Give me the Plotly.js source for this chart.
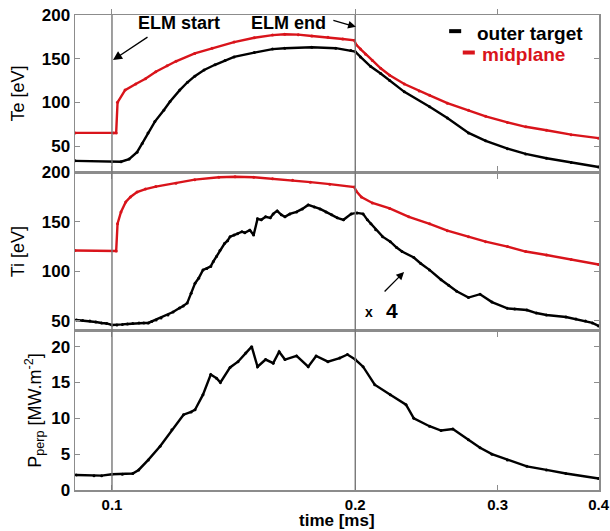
<!DOCTYPE html>
<html><head><meta charset="utf-8">
<script src="https://cdn.plot.ly/plotly-3.0.1.min.js"></script>
<style>body{margin:0;background:#fff}#c{width:610px;height:531px}</style>
</head><body><div id="c"></div>
<script>
// x tick labels
var xTicks = [0.1, 0.2, 0.3, 0.4];
// Te, midplane (red)
var teMidT = [0.09,0.1005,0.1012,0.1016,0.1038,0.107,0.11,0.1133,0.117,0.12,0.1266,0.133,0.1416,0.15,0.158,0.1636,0.17,0.1767,0.185,0.193,0.1995,0.2005,0.203,0.206,0.21,0.215,0.2206,0.23,0.24,0.2472,0.26,0.2762,0.29,0.3086,0.325,0.3449,0.37,0.4];
var teMidV = [65,65,65,100,114,121,127,135,142,147,156,162,169,174,177,178,177.5,176,174.5,172.5,171,166,161,155,148,139,131,121,113,108,99,91,84,77,72,68,63,59];
// Te, outer target (black)
var teOutT = [0.09,0.1,0.1026,0.105,0.1074,0.109,0.1108,0.113,0.1159,0.118,0.1213,0.124,0.1266,0.13,0.1341,0.138,0.1416,0.15,0.158,0.1636,0.1767,0.1892,0.1975,0.2,0.203,0.209,0.215,0.2206,0.23,0.2472,0.26,0.2762,0.29,0.3086,0.325,0.3449,0.37,0.4];
var teOutV = [33,32,32,35,43,53,65,78,91,101,114,123,130,137,143,148,152,157,161,162,163,162,159.5,158,152,141,133,125,112,95,82,65,56,47,41,36,31,26];
// Ti, midplane (red)
var tiMidT = [0.09,0.1012,0.1016,0.1026,0.104,0.1054,0.1074,0.11,0.1133,0.12,0.1266,0.1356,0.142,0.1498,0.158,0.1673,0.176,0.186,0.1995,0.2005,0.2035,0.21,0.2206,0.233,0.2472,0.26,0.2762,0.29,0.3086,0.325,0.3449,0.37,0.4];
var tiMidV = [121,120.5,148,160,170,175,180,183,185.5,189,192.5,195,195.5,195,193.5,192,190,188,185,181,175,169,163.5,155,148,141,135,130,125,120,116.5,112,107];
// Ti, outer target x4 (black)
var tiOutT = [0.0903,0.092,0.0939,0.0955,0.0971,0.0985,0.1,0.1014,0.103,0.1045,0.1061,0.108,0.1095,0.1109,0.112,0.1134,0.115,0.1173,0.119,0.1212,0.1225,0.1239,0.1253,0.1267,0.128,0.1296,0.131,0.1325,0.1335,0.1347,0.136,0.1378,0.139,0.14,0.1416,0.143,0.1448,0.146,0.1481,0.1497,0.1514,0.153,0.1549,0.157,0.1583,0.1601,0.162,0.1637,0.166,0.1692,0.172,0.1749,0.178,0.1809,0.184,0.187,0.19,0.1934,0.1977,0.201,0.2045,0.207,0.2091,0.212,0.2162,0.221,0.225,0.2285,0.2363,0.241,0.2471,0.2554,0.261,0.267,0.2761,0.2854,0.2952,0.3085,0.315,0.3261,0.335,0.3448,0.3645,0.375,0.3853,0.393,0.4];
var tiOutV = [51,50.5,50,49,48,47.5,46,46,46.5,47,47.5,48,48,48,49.5,51,53,56,59,63,65,68,78,88,93,101.5,103,105,110,115,121,128,131,135,136.6,138,140,139,141.6,136.6,153,152,155,154,158,161,157,155,158,160,163,167,165,163,160,157,154,152,158,159,158,152,148,142,135,130,124,120,114,108,101.5,91.6,86,80,73.6,77,69,62.7,62,61,58,56,54,52,50,48,45];
// P_perp, outer target (black)
var pT = [0.0903,0.095,0.0971,0.1,0.103,0.1061,0.1079,0.1109,0.1147,0.1186,0.1226,0.1253,0.1267,0.1296,0.1325,0.1347,0.1362,0.14,0.1432,0.1464,0.1489,0.1514,0.1549,0.1583,0.161,0.1637,0.1692,0.1749,0.1789,0.185,0.1913,0.1956,0.2,0.2045,0.2114,0.221,0.2311,0.2363,0.2471,0.2554,0.2641,0.2761,0.2854,0.2952,0.3085,0.3261,0.3448,0.3645,0.4];
var pV = [2.1,2.0,2.0,2.2,2.2,2.3,2.8,4.2,6.1,8.4,10.5,10.9,11.2,13.3,16.1,15.6,15.0,17.1,17.9,19.1,20.0,17.2,18.2,17.7,19.3,18.2,18.7,17.2,18.7,17.9,18.4,18.9,18.2,17.2,14.7,13.3,11.9,10.0,8.9,8.3,8.5,7.0,5.9,5.0,4.2,3.3,2.8,2.3,1.6];
// vertical event lines
var elmTimes = [0.1, 0.2];

var RED = '#d9141b', BLK = '#000000';
var FONT = 'Liberation Sans, Arial, sans-serif';
function tr(x, y, c, ya) {
  return {x: x, y: y, yaxis: ya, xaxis: 'x', type: 'scatter', mode: 'lines+markers',
    line: {color: c, width: 2.4}, marker: {color: c, size: 3}, showlegend: false, hoverinfo: 'skip'};
}
var data = [
  tr(teOutT, teOutV, BLK, 'y'), tr(teMidT, teMidV, RED, 'y'),
  tr(tiMidT, tiMidV, RED, 'y2'), tr(tiOutT, tiOutV, BLK, 'y2'),
  tr(pT, pV, BLK, 'y3')
];
var frame = '#8c8c8c';
var tickF = {family: FONT, size: 17, color: '#000', weight: 'bold'};
function yax(dom, rng, tv, title, so) {
  return {domain: dom, range: rng, tickvals: tv, ticktext: tv.map(String), anchor: 'x',
    showline: true, linecolor: frame, linewidth: 1.5, mirror: 'ticks', ticks: 'inside',
    ticklen: 5, tickcolor: frame, showgrid: false, zeroline: false, tickfont: tickF,
    title: {text: title, font: {family: FONT, size: 18, color: '#000'}, standoff: so}};
}
var shapes = elmTimes.map(function (t) {
  return {type: 'line', xref: 'x', yref: 'paper', x0: t, x1: t, y0: 0, y1: 1,
    line: {color: '#777', width: 1.4}};
});
shapes.push({type: 'line', xref: 'paper', yref: 'paper', x0: 0.714, x1: 0.737, y0: 0.966, y1: 0.966, line: {color: BLK, width: 4}});
shapes.push({type: 'line', xref: 'paper', yref: 'paper', x0: 0.740, x1: 0.763, y0: 0.921, y1: 0.921, line: {color: RED, width: 4}});
var bf = function (s, c) { return {family: FONT, size: s, color: c || '#000', weight: 'bold'}; };
function txt(x, y, t, f, xa) {
  return {xref: 'paper', yref: 'paper', x: x, y: y, text: t, showarrow: false, font: f,
    xanchor: xa || 'center', yanchor: 'middle'};
}
function arr(x, y, ax, ay, s) {
  return {xref: 'paper', yref: 'paper', x: x, y: y, ax: ax, ay: ay, text: '', showarrow: true,
    arrowhead: 2, arrowsize: s, arrowwidth: 1.3, arrowcolor: '#000'};
}
var annotations = [
  txt(0.198, 0.983, 'ELM start', bf(18)),
  arr(0.0725, 0.905, 36, -24, 1.4),
  txt(0.408, 0.983, 'ELM end', bf(18)),
  arr(0.536, 0.975, -24, -7, 1.2),
  txt(0.763, 0.962, 'outer target', bf(19), 'left'),
  txt(0.773, 0.916, 'midplane', bf(19, RED), 'left'),
  txt(0.561, 0.375, 'x', bf(14)),
  txt(0.605, 0.378, '4', bf(21)),
  arr(0.628, 0.459, -21, 21, 1.2),
  {xref: 'paper', yref: 'paper', x: 0.5, y: -0.086, text: 'time [ms]', showarrow: false,
    font: bf(17), xanchor: 'center', yanchor: 'bottom', borderpad: 0}
];
var layout = {
  width: 610, height: 531, margin: {l: 75, r: 11, t: 15, b: 41},
  paper_bgcolor: '#fff', plot_bgcolor: '#fff', showlegend: false,
  xaxis: {type: 'log', range: [Math.log10(0.09), Math.log10(0.4005)], anchor: 'y3',
    tickvals: xTicks, ticktext: ['0.1', '0.2', '0.3', '0.4'], showline: true, linecolor: frame, linewidth: 1.5,
    mirror: 'allticks', ticks: 'inside', ticklen: 5, tickcolor: frame, showgrid: false, zeroline: false,
    ticklabeloverflow: 'allow',
    tickfont: {family: FONT, size: 15, color: '#000', weight: 'bold'}},
  yaxis: yax([0.669, 1], [20, 200], [50, 100, 150, 200], 'Te [eV]', 12),
  yaxis2: yax([0.335, 0.669], [40, 200], [50, 100, 150, 200], 'Ti [eV]', 12),
  yaxis3: yax([0, 0.335], [0, 22.2], [0, 5, 10, 15, 20], 'P<sub>perp</sub> [MW.m<sup>-2</sup>]', 5),
  shapes: shapes, annotations: annotations
};
Plotly.newPlot('c', data, layout, {staticPlot: true, displayModeBar: false});
</script></body></html>
